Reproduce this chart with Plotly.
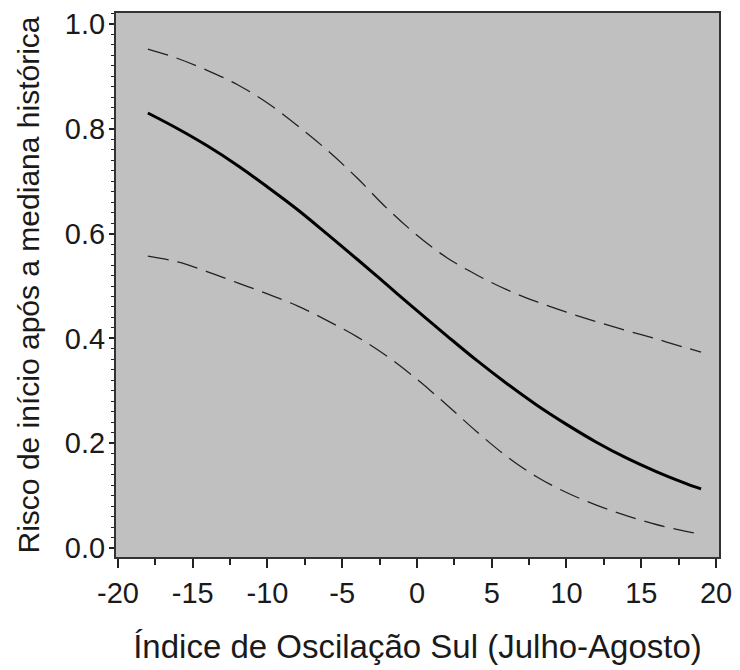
import plotly.graph_objects as go

# Data
soi = [-18, -16, -14, -12, -10, -8, -6, -4, -2, 0, 2, 4, 6, 8, 10, 12, 14, 16, 18, 19]
risk = [0.830, 0.800, 0.767, 0.730, 0.689, 0.646, 0.599, 0.551, 0.502, 0.453,
        0.405, 0.358, 0.314, 0.273, 0.236, 0.202, 0.172, 0.146, 0.123, 0.113]
upper = [0.952, 0.934, 0.911, 0.884, 0.849, 0.806, 0.759, 0.706, 0.648, 0.597,
         0.554, 0.521, 0.493, 0.470, 0.450, 0.432, 0.415, 0.399, 0.382, 0.374]
lower = [0.557, 0.546, 0.527, 0.506, 0.485, 0.462, 0.434, 0.403, 0.366, 0.322,
         0.273, 0.222, 0.175, 0.136, 0.106, 0.082, 0.062, 0.045, 0.032, 0.026]

x_ticks = [-20, -15, -10, -5, 0, 5, 10, 15, 20]
y_ticks = [0.0, 0.2, 0.4, 0.6, 0.8, 1.0]

fig = go.Figure()
fig.add_trace(go.Scatter(x=soi, y=upper, mode="lines",
                         line=dict(color="#222222", width=1.3, dash="21px,9px", shape="spline")))
fig.add_trace(go.Scatter(x=soi, y=lower, mode="lines",
                         line=dict(color="#222222", width=1.3, dash="21px,9px", shape="spline")))
fig.add_trace(go.Scatter(x=soi, y=risk, mode="lines",
                         line=dict(color="#000000", width=3, shape="spline")))

font_family = "Liberation Sans, Arial, sans-serif"
fig.update_layout(
    width=740, height=670,
    margin=dict(l=116, r=17, t=8, b=113),
    paper_bgcolor="white",
    plot_bgcolor="#c0c0c0",
    showlegend=False,
    font=dict(family=font_family, color="#1a1a1a"),
    xaxis=dict(
        range=[-20.13, 20.2],
        tickvals=x_ticks, ticktext=[str(v) for v in x_ticks],
        ticks="outside", ticklen=9, tickwidth=1.5, tickcolor="#222",
        minor=dict(dtick=2.5, tick0=0, ticks="outside", ticklen=6, tickwidth=1.5, tickcolor="#222"),
        showgrid=False, zeroline=False,
        showline=True, linecolor="#333", linewidth=2, mirror=True,
        tickfont=dict(size=29, family=font_family, color="#1a1a1a"),
        title=dict(text="Índice de Oscilação Sul (Julho-Agosto)",
                   font=dict(size=33, family=font_family, color="#1a1a1a"), standoff=27),
    ),
    yaxis=dict(
        range=[-0.017, 1.0208],
        tickvals=y_ticks, ticktext=["%.1f" % v for v in y_ticks],
        ticks="outside", ticklen=5, tickwidth=1.5, tickcolor="#222",
        minor=dict(dtick=0.02, tick0=0, ticks="outside", ticklen=3, tickwidth=1.2, tickcolor="#222"),
        showgrid=False, zeroline=False,
        showline=True, linecolor="#333", linewidth=2, mirror=True,
        tickfont=dict(size=29, family=font_family, color="#1a1a1a"),
        ticklabelstandoff=-2,
        title=dict(text="Risco de início após a mediana histórica",
                   font=dict(size=30, family=font_family, color="#1a1a1a"), standoff=16),
    ),
)

fig.write_html("out.html")
